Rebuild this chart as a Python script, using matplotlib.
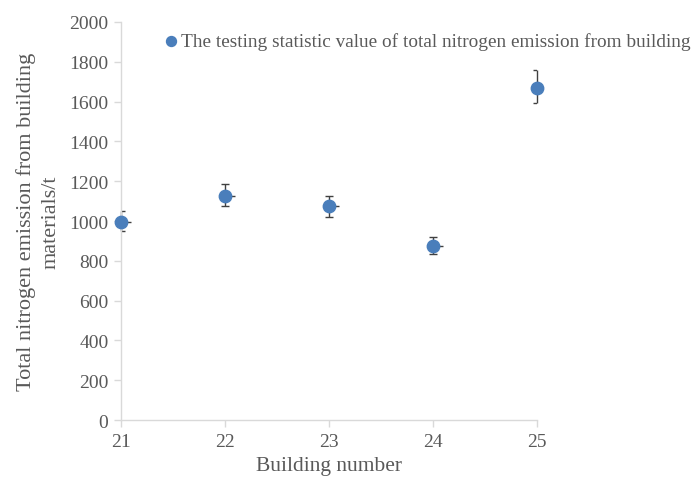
import numpy as np
import matplotlib
matplotlib.use("Agg")
import matplotlib.pyplot as plt

# building number and measured nitrogen emission (t)
buildings = [21, 22, 23, 24, 25]
emission = [996, 1125, 1077, 876, 1668]
err_up = [52, 59, 50, 45, 92]
err_down = [46, 51, 55, 42, 75]
x_err = [0.1, 0.1, 0.1, 0.1, 0.1]

yticks = [0, 200, 400, 600, 800, 1000, 1200, 1400, 1600, 1800, 2000]

plt.rcParams['font.family'] = ['Liberation Serif', 'DejaVu Serif']
txt = '#595959'
blue = '#4a7ebb'
ecol = '#404040'

fig = plt.figure(figsize=(6.97, 4.81), dpi=100)
ax = fig.add_axes([0.1736, 0.1247, 0.5966, 0.8275])

x = np.array(buildings, dtype=float)
y = np.array(emission, dtype=float)
top = y + np.array(err_up)
bot = y - np.array(err_down)

# error bars; caps and x-bars clipped to the plot area like the original
ax.vlines(x, bot, top, color=ecol, lw=1.0, zorder=2, clip_on=False)
cap = 0.04
ax.hlines(top, x - cap, x + cap, color=ecol, lw=1.0, zorder=2)
ax.hlines(bot, x - cap, x + cap, color=ecol, lw=1.0, zorder=2)
ax.hlines(y, x, x + np.array(x_err), color=ecol, lw=1.0, zorder=2)
ax.scatter(x, y, s=80, color=blue, zorder=3, clip_on=False,
           label='The testing statistic value of total nitrogen emission from building')

ax.set_xlim(21, 25)
ax.set_ylim(0, 2000)
ax.set_xticks(buildings)
ax.set_yticks(yticks)

for s in ['top', 'right']:
    ax.spines[s].set_visible(False)
for s in ['left', 'bottom']:
    ax.spines[s].set_color('#d9d9d9')
    ax.spines[s].set_linewidth(1.0)
ax.tick_params(colors='#d9d9d9', labelcolor=txt, labelsize=14, length=5, width=1.0)
ax.tick_params(axis='y', pad=4)
ax.tick_params(axis='x', pad=4)

ax.set_xlabel('Building number', fontsize=15.5, color=txt, labelpad=5)
ax.set_ylabel('Total nitrogen emission from building\nmaterials/t', fontsize=16,
              color=txt, labelpad=6, linespacing=1.4)

fig.legend(loc='upper left', bbox_to_anchor=(0.232, 0.932), frameon=False,
           fontsize=13.9, labelcolor=txt, handletextpad=0.0, handlelength=1.0,
           markerscale=0.8, borderaxespad=0, borderpad=0)

fig.savefig('out.png', dpi=100)
